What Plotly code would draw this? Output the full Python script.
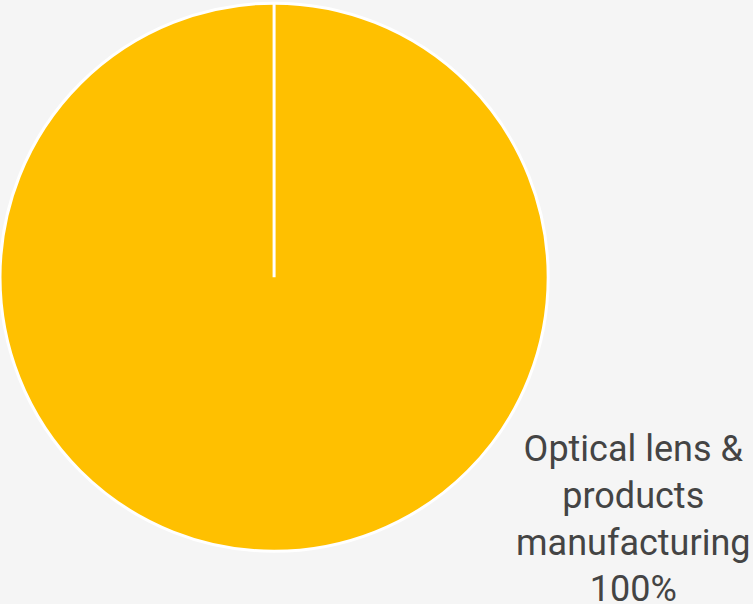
import plotly.graph_objects as go

labels = ["Optical lens & products manufacturing"]
values = [100]
label_lines = ["Optical lens &", "products", "manufacturing"]

pct = values[0] / sum(values) * 100
ann_text = "<br>".join(label_lines + [f"{pct:.0f}%"])

W, H = 753, 604
dom_x = [0.0, 0.728]
dom_y = [0.085, 0.997]

fig = go.Figure(go.Pie(
    labels=labels,
    values=values,
    sort=False,
    direction="clockwise",
    rotation=0,
    marker=dict(colors=["#FFC000"], line=dict(color="white", width=3)),
    textinfo="none",
    hoverinfo="label+percent",
    domain=dict(x=dom_x, y=dom_y),
    showlegend=False,
))

# slice start border (radial line from centre to top), derived from domain
cx = (dom_x[0] + dom_x[1]) / 2 * W
cy = (1 - (dom_y[0] + dom_y[1]) / 2) * H
r = min((dom_x[1] - dom_x[0]) * W, (dom_y[1] - dom_y[0]) * H) / 2
fig.add_shape(type="line", xref="x", yref="y", x0=cx, x1=cx, y0=cy, y1=cy - r,
              line=dict(color="white", width=3))

fig.add_annotation(
    x=633, y=519, xref="x", yref="y",
    text=ann_text, showarrow=False,
    font=dict(family="Roboto", size=36, color="#444444"),
    align="center",
)
fig.update_xaxes(range=[0, W], visible=False)
fig.update_yaxes(range=[H, 0], visible=False)

fig.update_layout(
    width=W, height=H,
    margin=dict(l=0, r=0, t=0, b=0),
    paper_bgcolor="#f5f5f5",
    plot_bgcolor="rgba(0,0,0,0)",
)
fig.write_html("out.html", config={"displayModeBar": False},
               post_script="document.body.style.margin='0';")
